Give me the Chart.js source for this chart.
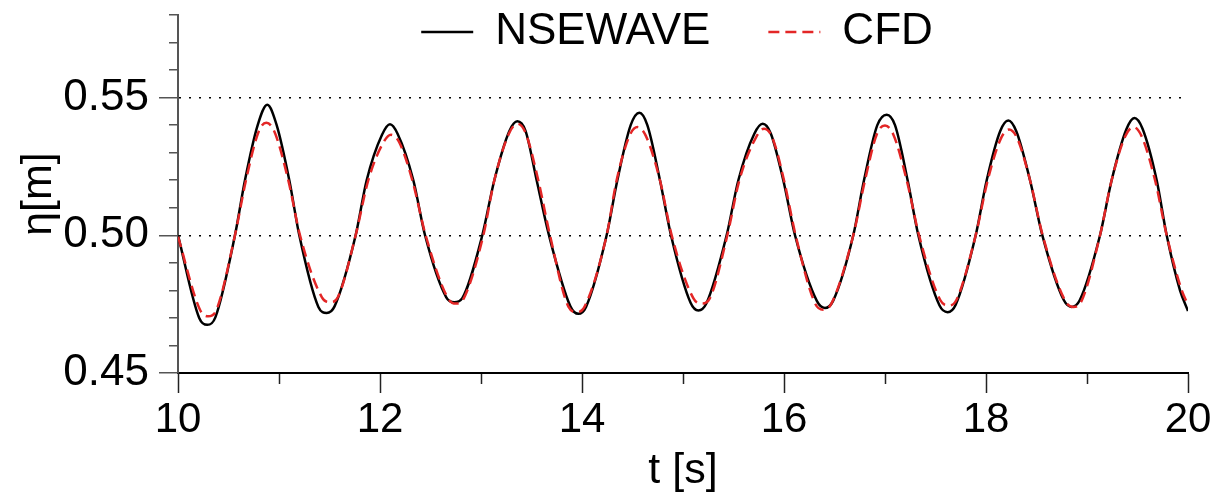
<!DOCTYPE html>
<html>
<head>
<meta charset="utf-8">
<script src="https://cdn.jsdelivr.net/npm/chart.js@4.4.1/dist/chart.umd.min.js"></script>
<style>
  html, body { margin: 0; padding: 0; background: #fff; }
  #wrap { width: 1222px; height: 497px; position: relative; }
</style>
</head>
<body>
<div id="wrap"><canvas id="waveChart"></canvas></div>
<script>
// values: time [s] and surface elevation [m]
// (crests, troughs, points either side of them, and the 0.50 / 0.52 crossings)
const nseTime = [10.00, 10.21, 10.29, 10.37, 10.564, 10.663, 10.789, 10.884, 10.977, 11.102, 11.201,
  11.39, 11.472, 11.55, 11.759, 11.868, 12.02, 12.099, 12.175, 12.33, 12.446,
  12.656, 12.736, 12.815, 13.013, 13.132, 13.28, 13.36, 13.44, 13.551, 13.673,
  13.885, 13.964, 14.04, 14.244, 14.35, 14.482, 14.568, 14.647, 14.772, 14.881,
  15.075, 15.152, 15.232, 15.432, 15.548, 15.705, 15.789, 15.869, 15.993, 16.109,
  16.325, 16.406, 16.486, 16.686, 16.792, 16.924, 17.017, 17.099, 17.224, 17.33,
  17.54, 17.62, 17.70, 17.898, 18.007, 18.14, 18.221, 18.30, 18.436, 18.558,
  18.77, 18.848, 18.928, 19.129, 19.244, 19.39, 19.469, 19.549, 19.69, 19.789, 19.921, 20.00];
const nseEta = [0.500, 0.4700, 0.4675, 0.4702, 0.500, 0.520, 0.540, 0.5474, 0.540, 0.520, 0.500,
  0.4740, 0.4718, 0.4742, 0.500, 0.520, 0.5365, 0.5403, 0.5368, 0.520, 0.500,
  0.4775, 0.4757, 0.4772, 0.500, 0.520, 0.5378, 0.5414, 0.5380, 0.520, 0.500,
  0.4742, 0.4715, 0.4740, 0.500, 0.520, 0.540, 0.5445, 0.540, 0.520, 0.500,
  0.4755, 0.4727, 0.4753, 0.500, 0.520, 0.5368, 0.5405, 0.5370, 0.520, 0.500,
  0.4762, 0.4736, 0.4762, 0.500, 0.520, 0.540, 0.5438, 0.540, 0.520, 0.500,
  0.4745, 0.4721, 0.4748, 0.500, 0.520, 0.5378, 0.5417, 0.5378, 0.520, 0.500,
  0.4765, 0.4740, 0.4764, 0.500, 0.520, 0.5385, 0.5426, 0.5388, 0.520, 0.500, 0.480, 0.4725];

const cfdTime = [10.00, 10.22, 10.30, 10.38, 10.564, 10.673, 10.80, 10.875, 10.955, 11.092, 11.208,
  11.425, 11.505, 11.585, 11.759, 11.884, 12.035, 12.109, 12.19, 12.32, 12.452,
  12.672, 12.752, 12.832, 13.023, 13.132, 13.28, 13.36, 13.44, 13.567, 13.683,
  13.867, 13.947, 14.027, 14.244, 14.343, 14.471, 14.551, 14.631, 14.772, 14.888,
  15.105, 15.185, 15.265, 15.439, 15.558, 15.722, 15.802, 15.882, 16.00, 16.115,
  16.309, 16.389, 16.469, 16.686, 16.802, 16.92, 17.00, 17.08, 17.215, 17.337,
  17.547, 17.627, 17.707, 17.898, 18.017, 18.148, 18.228, 18.308, 18.436, 18.561,
  18.784, 18.864, 18.944, 19.129, 19.244, 19.379, 19.459, 19.539, 19.674, 19.789, 19.938, 20.00];
const cfdEta = [0.4995, 0.4728, 0.4706, 0.4729, 0.500, 0.520, 0.5378, 0.5409, 0.5376, 0.520, 0.500,
  0.4775, 0.4757, 0.4777, 0.500, 0.520, 0.5338, 0.5365, 0.5338, 0.520, 0.500,
  0.4772, 0.4752, 0.4773, 0.500, 0.520, 0.5372, 0.5405, 0.5373, 0.520, 0.500,
  0.4740, 0.4721, 0.4742, 0.500, 0.520, 0.5362, 0.5393, 0.5362, 0.520, 0.500,
  0.4770, 0.4752, 0.4771, 0.500, 0.520, 0.5355, 0.5387, 0.5357, 0.520, 0.500,
  0.4752, 0.4730, 0.4752, 0.500, 0.520, 0.5368, 0.5399, 0.5368, 0.520, 0.500,
  0.4765, 0.4745, 0.4765, 0.500, 0.520, 0.5352, 0.5384, 0.5353, 0.520, 0.500,
  0.4762, 0.4740, 0.4760, 0.500, 0.520, 0.5360, 0.5393, 0.5361, 0.520, 0.500, 0.480, 0.4748];

// tick labels shown on the axes
const timeLabels = [10, 12, 14, 16, 18, 20];
const etaLabels = ["0.45", "0.50", "0.55"];
const etaDotted = ["0.50", "0.55"];

const toPoints = (xs, ys) => xs.map((x, i) => ({ x, y: ys[i] }));

Chart.defaults.font.family = "'Liberation Sans', Arial, Helvetica, sans-serif";
Chart.defaults.color = "#000";

// the legend sits inside the plot area in the original, so it takes no layout space
const legendInside = {
  id: "legendInside",
  afterLayout(chart) {
    const lg = chart.legend;
    lg.top = -48;
    lg.bottom = 90;
    lg.height = 138;
    lg.left -= 6;
    lg.right -= 6;
  }
};

const ctx = document.getElementById("waveChart").getContext("2d");

new Chart(ctx, {
  type: "line",
  data: {
    datasets: [
      {
        label: "NSEWAVE",
        data: toPoints(nseTime, nseEta),
        borderColor: "#000",
        borderWidth: 2.5,
        pointRadius: 0,
        fill: false,
        cubicInterpolationMode: "monotone",
        order: 1
      },
      {
        label: "CFD",
        data: toPoints(cfdTime, cfdEta),
        borderColor: "#e32626",
        borderWidth: 2.5,
        borderDash: [11, 6],
        pointRadius: 0,
        fill: false,
        cubicInterpolationMode: "monotone",
        order: 0
      }
    ]
  },
  options: {
    responsive: true,
    maintainAspectRatio: false,
    animation: false,
    layout: { padding: { top: 14, right: 34, left: 0, bottom: 0 } },
    scales: {
      x: {
        type: "linear",
        min: 10,
        max: 20,
        afterFit: (s) => { s.height = 124; },
        ticks: {
          stepSize: 1,
          autoSkip: false,
          maxRotation: 0,
          padding: 2,
          font: { size: 42 },
          callback: (v) => timeLabels.includes(Math.round(v * 1000) / 1000) ? String(v) : ""
        },
        grid: {
          drawOnChartArea: false,
          tickLength: 20,
          tickWidth: 1.5,
          tickColor: "#222",
          tickBorderDash: (c) => (c.tick && timeLabels.includes(c.tick.value)) ? [] : [10, 100]
        },
        border: { color: "#000", width: 2 },
        title: {
          display: true,
          text: "t [s]",
          font: { size: 43 },
          padding: { top: 0, bottom: 0 }
        }
      },
      y: {
        min: 0.45,
        max: 0.58,
        afterFit: (s) => { s.width = 178; s.paddingTop = 0; s.paddingBottom = 0; },
        ticks: {
          stepSize: 0.01,
          maxTicksLimit: 50,
          autoSkip: false,
          padding: 10,
          font: { size: 44 },
          callback: (v) => {
            const t = v.toFixed(2);
            return etaLabels.includes(t) ? t : "";
          }
        },
        grid: {
          lineWidth: 1.5,
          color: (c) => (c.tick && etaDotted.includes(c.tick.value.toFixed(2))) ? "#000" : "rgba(0,0,0,0)",
          tickLength: 19,
          tickWidth: 1.5,
          tickColor: "#555",
          tickBorderDash: (c) => (c.tick && etaLabels.includes(c.tick.value.toFixed(2))) ? [] : [0, 10, 20, 100]
        },
        border: { color: "#555", width: 2, dash: [2, 8] },
        title: {
          display: true,
          text: "η[m]",
          font: { size: 43 },
          padding: { top: 13, bottom: 0 }
        }
      }
    },
    plugins: {
      legend: {
        position: "top",
        fullSize: false,
        maxHeight: 1,
        labels: {
          usePointStyle: true,
          pointStyle: "line",
          pointStyleWidth: 52,
          padding: 58,
          color: "#000",
          font: { size: 44 },
          sort: (a, b) => a.datasetIndex - b.datasetIndex,
          generateLabels: (chart) => {
            const items = Chart.defaults.plugins.legend.labels.generateLabels(chart);
            items.forEach((it) => {
              const ds = chart.data.datasets[it.datasetIndex];
              it.lineDash = ds.borderDash || [];
              it.strokeStyle = ds.borderColor;
              it.lineWidth = ds.borderWidth;
            });
            return items;
          }
        }
      },
      tooltip: { enabled: false }
    }
  },
  plugins: [legendInside]
});
</script>
</body>
</html>
